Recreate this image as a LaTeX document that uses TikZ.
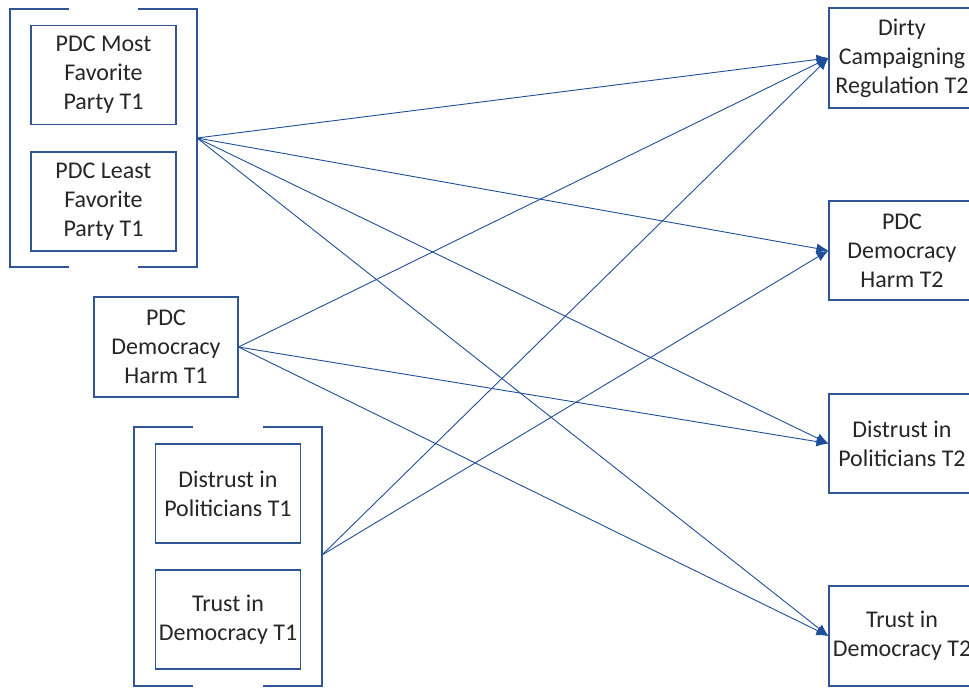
\documentclass[tikz,border=0pt]{standalone}
\usepackage{fontspec}
\setmainfont{Carlito}
\usepackage{tikz}
\usetikzlibrary{arrows.meta}
\definecolor{boxblue}{HTML}{2F5597}
\definecolor{pathblue}{HTML}{1F4E99}

\begin{document}
\begin{tikzpicture}[x=1pt, y=-1pt,
    var/.style={draw=boxblue, line width=1.1pt, align=center, inner sep=0pt,
      minimum width=145pt, minimum height=99pt,
      font=\fontsize{24}{29}\selectfont, text=black!85},
    path/.style={draw=pathblue, line width=0.9pt, -{Latex[length=12pt,width=10pt]}}]
  \useasboundingbox (0,0) rectangle (969,689);
  \clip (0,0) rectangle (969,689);

  % Predictors at T1
  \node[var] (mostfav) at (103.5,75) {PDC Most\\Favorite\\Party T1};
  \node[var] (leastfav) at (103.5,201.5) {PDC Least\\Favorite\\Party T1};
  \node[var, minimum width=144pt, minimum height=100pt] (harmone) at (166,347) {PDC\\Democracy\\Harm T1};
  \node[var] (distrustone) at (228,493.5) {Distrust in\\Politicians T1};
  \node[var] (trustone) at (228,619.5) {Trust in\\Democracy T1};

  % Brackets round the grouped predictors
  \draw[boxblue, line width=1.1pt] (69,9) -- (10,9) -- (10,267) -- (69,267)
    (138,9) -- (197,9) -- (197,267) -- (138,267);
  \draw[boxblue, line width=1.1pt] (193,427) -- (134,427) -- (134,686) -- (193,686)
    (263,427) -- (322,427) -- (322,686) -- (263,686);
  \coordinate (partygroup) at (197,138);
  \coordinate (trustgroup) at (322,555);

  % Outcomes at T2
  \node[var, minimum width=146pt, minimum height=100pt] (dirtytwo) at (902,58) {Dirty\\Campaigning\\Regulation T2};
  \node[var, minimum width=146pt] (harmtwo) at (902,250.5) {PDC\\Democracy\\Harm T2};
  \node[var, minimum width=146pt] (distrusttwo) at (902,443.5) {Distrust in\\Politicians T2};
  \node[var, minimum width=146pt, minimum height=100pt] (trusttwo) at (902,636) {Trust in\\Democracy T2};

  % Paths
  \foreach \t in {dirtytwo, harmtwo, distrusttwo, trusttwo}
    \draw[path] (partygroup) -- (\t.west);
  \foreach \t in {dirtytwo, distrusttwo, trusttwo}
    \draw[path] (harmone.east) -- (\t.west);
  \foreach \t in {dirtytwo, harmtwo}
    \draw[path] (trustgroup) -- (\t.west);
\end{tikzpicture}
\end{document}
